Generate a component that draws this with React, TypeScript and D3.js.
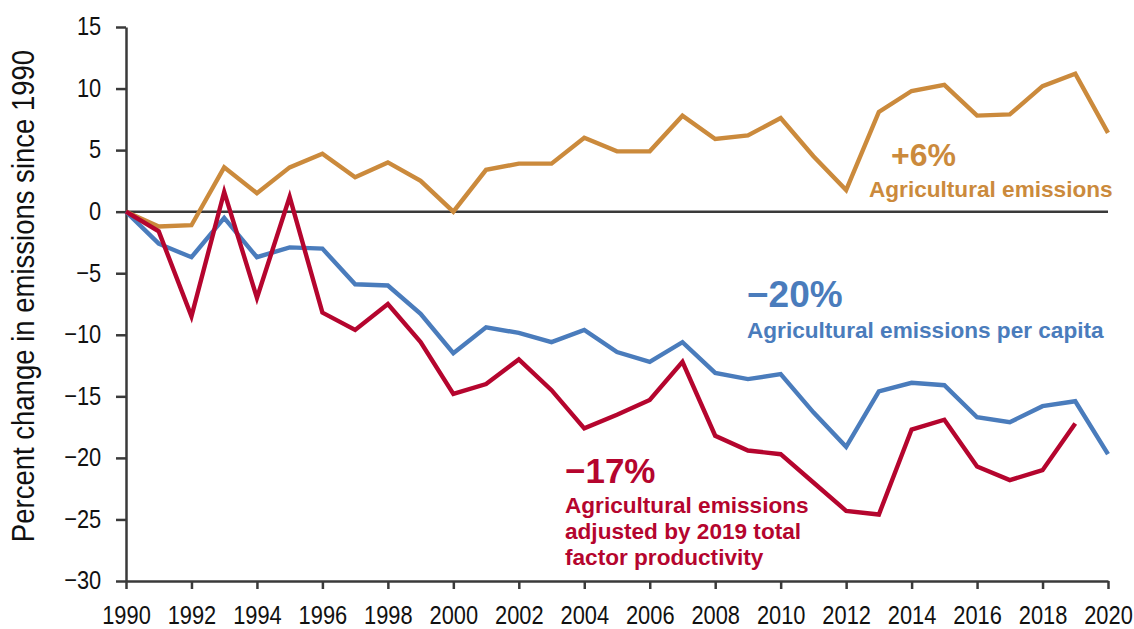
import { useEffect, useRef } from 'react';
import * as d3 from 'd3';

// years on the x axis
const years = [
  1990, 1991, 1992, 1993, 1994, 1995, 1996, 1997, 1998, 1999,
  2000, 2001, 2002, 2003, 2004, 2005, 2006, 2007, 2008, 2009,
  2010, 2011, 2012, 2013, 2014, 2015, 2016, 2017, 2018, 2019, 2020,
];

// percent change since 1990
const agEmissions = [
  0, -1.2, -1.1, 3.6, 1.5, 3.6, 4.7, 2.8, 4.0, 2.5,
  0, 3.4, 3.9, 3.9, 6.0, 4.9, 4.9, 7.8, 5.9, 6.2,
  7.6, 4.5, 1.75, 8.1, 9.8, 10.3, 7.8, 7.9, 10.2, 11.2, 6.4,
];
const perCapita = [
  0, -2.6, -3.7, -0.5, -3.7, -2.9, -3.0, -5.9, -6.0, -8.3,
  -11.5, -9.4, -9.85, -10.6, -9.6, -11.4, -12.2, -10.6, -13.1, -13.6,
  -13.2, -16.3, -19.1, -14.6, -13.9, -14.1, -16.7, -17.1, -15.8, -15.4, -19.7,
];
// adjusted by 2019 TFP, ends in 2019
const tfpAdjusted = [
  0, -1.6, -8.5, 1.6, -7.0, 1.2, -8.2, -9.6, -7.5, -10.6,
  -14.8, -14.0, -12.0, -14.5, -17.6, -16.5, -15.3, -12.2, -18.2, -19.4,
  -19.7, -22.0, -24.3, -24.6, -17.7, -16.9, -20.7, -21.8, -21.0, -17.2,
];

const yTicks = [15, 10, 5, 0, -5, -10, -15, -20, -25, -30];
const xTicks = [1990, 1992, 1994, 1996, 1998, 2000, 2002, 2004, 2006, 2008, 2010, 2012, 2014, 2016, 2018, 2020];

const ORANGE = '#CB8A3C';
const BLUE = '#4A7CBC';
const RED = '#B5052E';
const AXIS = '#3a3a3a';

const W = 1134;
const H = 629;

const buildChart = (node: SVGSVGElement) => {
  const svg = d3.select(node);
  svg.selectAll('*').remove();

  const x = d3.scaleLinear().domain([1990, 2020]).range([126, 1108]);
  const y = d3.scaleLinear().domain([-30, 15]).range([581, 27]);

  const minus = (d: number) => (d < 0 ? '\u2212' + Math.abs(d) : String(d));

  // y axis
  const gy = svg.append('g').attr('transform', 'translate(126,0)')
    .call(d3.axisLeft(y).tickValues(yTicks).tickSize(10).tickSizeOuter(0).tickFormat((d: any) => minus(d)));
  gy.select('.domain').attr('stroke', AXIS).attr('stroke-width', 2.5);
  gy.selectAll('.tick line').attr('stroke', AXIS).attr('stroke-width', 2.5);
  gy.selectAll('.tick text')
    .attr('font-family', 'Liberation Sans, Arial, sans-serif')
    .attr('font-size', 26)
    .attr('fill', '#111')
    .attr('x', -29.5)
    .attr('dy', '0.3em')
    .attr('transform', 'scale(0.84,1)');

  // x axis
  const gx = svg.append('g').attr('transform', 'translate(0,581)')
    .call(d3.axisBottom(x).tickValues(xTicks).tickSize(8).tickSizeOuter(0).tickFormat(d3.format('d')));
  gx.select('.domain').attr('stroke', AXIS).attr('stroke-width', 2.5);
  gx.selectAll('.tick line').attr('stroke', AXIS).attr('stroke-width', 2.5);
  gx.selectAll('.tick text')
    .attr('font-family', 'Liberation Sans, Arial, sans-serif')
    .attr('font-size', 26)
    .attr('fill', '#111')
    .attr('y', 25)
    .attr('transform', 'scale(0.84,1)');

  // zero line
  svg.append('line')
    .attr('x1', x(1990)).attr('x2', x(2020))
    .attr('y1', y(0)).attr('y2', y(0))
    .attr('stroke', AXIS).attr('stroke-width', 2.5);

  // y axis title
  svg.append('text')
    .attr('transform', 'translate(34,296) rotate(-90) scale(0.86,1)')
    .attr('text-anchor', 'middle')
    .attr('font-family', 'Liberation Sans, Arial, sans-serif')
    .attr('font-size', 32)
    .attr('fill', '#111')
    .text('Percent change in emissions since 1990');

  const series = [
    { values: agEmissions, color: ORANGE },
    { values: perCapita, color: BLUE },
    { values: tfpAdjusted, color: RED },
  ];

  const line = d3.line<number>()
    .x((_, i) => x(years[i]))
    .y((d) => y(d));

  series.forEach((s) => {
    svg.append('path')
      .datum(s.values)
      .attr('d', line)
      .attr('fill', 'none')
      .attr('stroke', s.color)
      .attr('stroke-width', 4.4)
      .attr('stroke-linejoin', 'miter');
  });

  // annotations
  const bold = (tx: number, ty: number, size: number, color: string, str: string) =>
    svg.append('text')
      .attr('x', tx).attr('y', ty)
      .attr('font-family', 'Liberation Sans, Arial, sans-serif')
      .attr('font-weight', 'bold')
      .attr('font-size', size)
      .attr('fill', color)
      .text(str);

  bold(891, 166, 32, ORANGE, '+6%');
  bold(869, 197, 22.6, ORANGE, 'Agricultural emissions');

  bold(747, 307, 37, BLUE, '\u221220%');
  bold(747, 338, 22.6, BLUE, 'Agricultural emissions per capita');

  bold(565, 483, 35, RED, '\u221217%');
  bold(565, 513, 22.6, RED, 'Agricultural emissions');
  bold(565, 539, 22.6, RED, 'adjusted by 2019 total');
  bold(565, 565, 22.6, RED, 'factor productivity');
};

const App = () => {
  const ref = useRef<SVGSVGElement>(null);

  useEffect(() => {
    if (ref.current) buildChart(ref.current);
  }, []);

  return (
    <svg
      ref={ref}
      width={W}
      height={H}
      viewBox={`0 0 ${W} ${H}`}
      style={{ position: 'absolute', left: 0, top: 0, background: '#fff' }}
    />
  );
};

export default App;
